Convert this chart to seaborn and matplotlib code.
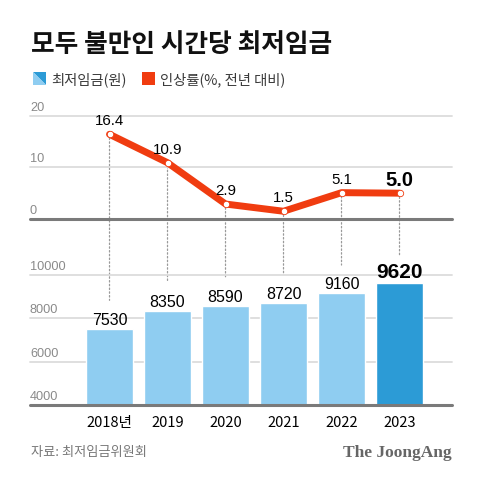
import numpy as np
import matplotlib
matplotlib.use("Agg")
import matplotlib.pyplot as plt
from matplotlib.patches import Polygon, Rectangle, ConnectionPatch
import seaborn as sns

years = ["2018년", "2019", "2020", "2021", "2022", "2023"]
wages = [7530, 8350, 8590, 8720, 9160, 9620]
rates = [16.4, 10.9, 2.9, 1.5, 5.1, 5.0]
rate_labels = ["16.4", "10.9", "2.9", "1.5", "5.1", "5.0"]
rate_ticks = [0, 10, 20]
wage_ticks = [4000, 6000, 8000, 10000]

title = "모두 불만인 시간당 최저임금"
legend_wage = "최저임금(원)"
legend_rate = "인상률(%, 전년 대비)"
source = "자료: 최저임금위원회"
brand = "The JoongAng"

LIGHT = "#8fcdf1"
DARK = "#2c9bd6"
RED = "#f03c10"
GRID = "#dcdcdc"
BASE = "#7a7a7a"
TICK = "#8a8a8a"

sns.set_theme(style="white")
plt.rcParams["font.family"] = ["Noto Sans CJK KR", "DejaVu Sans"]

W, H = 480, 481
fig = plt.figure(figsize=(4.8, 4.81), dpi=100)
fig.patch.set_facecolor("white")

def fx(px):
    return px / W

def fy(py):
    return 1 - py / H

x_left, x_right = 30, 452
xlim = (-1.371, 5.905)
NUMFONT = ["Liberation Sans", "DejaVu Sans"]

# top axes (rate)
ax1 = fig.add_axes([fx(x_left), fy(220), fx(x_right - x_left), (220 - 116.7) / H])
ax1.set_facecolor("none")
# bottom axes (wage)
ax2 = fig.add_axes([fx(x_left), fy(406), fx(x_right - x_left), (406 - 276) / H])
ax2.set_facecolor("none")

# bars
bar_colors = [LIGHT] * (len(years) - 1) + [DARK]
sns.barplot(x=years, y=wages, hue=years, palette=bar_colors, ax=ax2,
            width=0.81, legend=False, saturation=1, zorder=2)
ax2.set_ylim(4000, 10000)
ax2.set_xlim(*xlim)

for i, v in enumerate(wages):
    last = i == len(wages) - 1
    ax2.annotate(str(v), (i, v), xytext=(0, (12 if last else 9.5) * 0.72),
                 textcoords="offset points", ha="center", va="center",
                 fontsize=15 if last else 11.5, fontweight="bold" if last else "normal",
                 color="black", family=NUMFONT, annotation_clip=False)

# line
pos = np.arange(len(years))
sns.lineplot(x=pos, y=rates, ax=ax1, color=RED, linewidth=5.0, zorder=3,
             solid_capstyle="round", solid_joinstyle="round")
ax1.plot(pos, rates, linestyle="none", marker="o", markersize=4.6,
         markerfacecolor="white", markeredgecolor=RED, markeredgewidth=0.6, zorder=4)
ax1.set_ylim(0, 20)
ax1.set_xlim(*xlim)
for i, (v, lab) in enumerate(zip(rates, rate_labels)):
    last = i == len(rates) - 1
    ax1.annotate(lab, (i, v), xytext=(0, 14 * 0.72), textcoords="offset points",
                 ha="center", va="center",
                 fontsize=14.5 if last else 10.8, fontweight="bold" if last else "normal",
                 color="black", family=NUMFONT, annotation_clip=False)

# gridlines and tick labels
for ax, ticks, base in ((ax1, rate_ticks, 0), (ax2, wage_ticks, 4000)):
    for t in ticks:
        if t == base:
            ax.axhline(t, color=BASE, linewidth=2.2, zorder=5, clip_on=False)
        else:
            ax.axhline(t, color=GRID, linewidth=1.3, zorder=0, clip_on=False)
        ax.annotate(str(t), (0, t), xycoords=("axes fraction", "data"),
                    xytext=(0, 9 * 0.72), textcoords="offset points",
                    ha="left", va="center", fontsize=9.2, color=TICK,
                    family=NUMFONT, annotation_clip=False)
    ax.set_yticks([])
    ax.set_ylabel("")
    for s in ax.spines.values():
        s.set_visible(False)

ax1.set_xticks([])
ax2.set_xticks(pos)
ax2.set_xticklabels(years, fontsize=10.5, color="black")
ax2.tick_params(axis="x", length=0, pad=7)
ax2.set_xlabel("")

# dotted connectors
for i in range(len(years)):
    cp = ConnectionPatch(xyA=(i, rates[i]), coordsA=ax1.transData,
                         xyB=(i, wages[i] + 1300), coordsB=ax2.transData,
                         linestyle=(0, (1.2, 1.8)), color="#9a9a9a", linewidth=0.9,
                         zorder=-1)
    fig.add_artist(cp)

# title
fig.text(fx(31), fy(44), title, fontsize=18.5, fontweight="heavy", color="#111111",
         ha="left", va="center")

# legend
sq = 13
x0, y0 = 33, 73
tri1 = Polygon([[fx(x0), fy(y0)], [fx(x0 + sq), fy(y0)], [fx(x0 + sq), fy(y0 + sq)]],
               closed=True, transform=fig.transFigure, facecolor=DARK, edgecolor="none")
tri2 = Polygon([[fx(x0), fy(y0)], [fx(x0 + sq), fy(y0 + sq)], [fx(x0), fy(y0 + sq)]],
               closed=True, transform=fig.transFigure, facecolor=LIGHT, edgecolor="none")
fig.add_artist(tri1)
fig.add_artist(tri2)
fig.text(fx(51), fy(80), legend_wage, fontsize=10.3, color="#3a3a3a", ha="left", va="center")
fig.add_artist(Rectangle((fx(142), fy(y0 + sq)), fx(sq), sq / H,
                         transform=fig.transFigure, facecolor=RED, edgecolor="none"))
fig.text(fx(160), fy(80), legend_rate, fontsize=10.3, color="#3a3a3a", ha="left", va="center")

# footer
fig.text(fx(31), fy(453), source, fontsize=9.5, color="#777777", ha="left", va="center")
fig.text(fx(452), fy(453), brand, fontsize=12.5, fontweight="bold", color="#666666",
         ha="right", va="center", family=["Liberation Serif", "DejaVu Serif"])

fig.savefig("out.png", dpi=100, facecolor="white")
